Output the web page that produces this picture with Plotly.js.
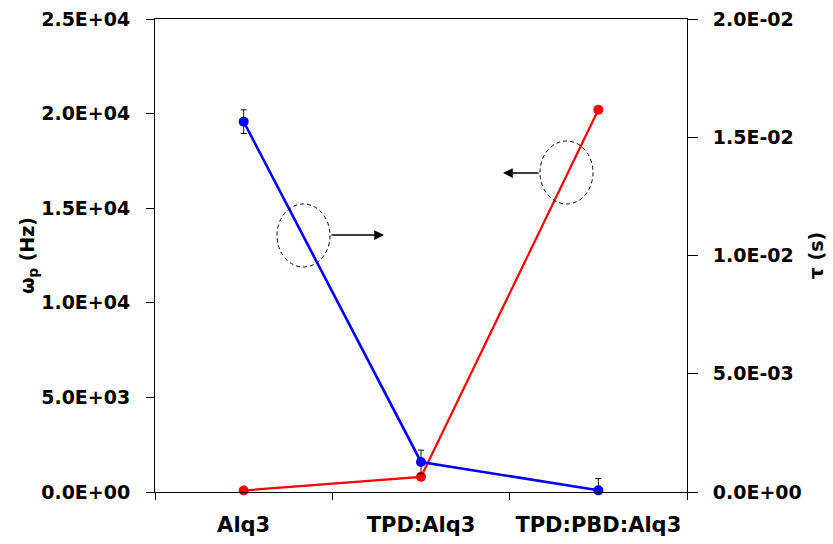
<!DOCTYPE html>
<html><head><meta charset="utf-8">
<script src="https://cdn.plot.ly/plotly-3.0.1.min.js"></script>
<style>html,body{margin:0;padding:0;background:#fff}#chart{width:833px;height:544px}</style>
</head><body><div id="chart"></div>
<script>
const categories = ['Alq3', 'TPD:Alq3', 'TPD:PBD:Alq3'];
const omegaP = [80, 800, 20200];              // ω_p (Hz) – red, left axis
const tau = [0.01566, 0.00127, 0.00007];      // τ (s) – blue, right axis
const tauErrPlus = [0.0005, 0.0005, 0.0005];
const tauErrMinus = [0.0005, 0.0005, 0.00007];
const leftTickVals = [0, 5000, 10000, 15000, 20000, 25000];
const leftTickText = ['0.0E+00', '5.0E+03', '1.0E+04', '1.5E+04', '2.0E+04', '2.5E+04'];
const rightTickVals = [0, 0.005, 0.01, 0.015, 0.02];
const rightTickText = ['0.0E+00', '5.0E-03', '1.0E-02', '1.5E-02', '2.0E-02'];

const FONT = 'DejaVu Sans';
const tickFont = {family: FONT, size: 19, color: '#000', weight: 'bold'};

const traces = [
  {
    x: categories, y: omegaP, xaxis: 'x', yaxis: 'y', type: 'scatter', mode: 'lines+markers',
    line: {color: '#ff0000', width: 2.2}, marker: {color: '#ff0000', size: 10},
    cliponaxis: false, showlegend: false, hoverinfo: 'none'
  },
  {
    x: categories, y: tau, xaxis: 'x', yaxis: 'y2', type: 'scatter', mode: 'lines+markers',
    line: {color: '#0000ff', width: 2.6}, marker: {color: '#0000ff', size: 10},
    error_y: {type: 'data', symmetric: false, array: tauErrPlus, arrayminus: tauErrMinus,
              color: '#111111', thickness: 1, width: 3},
    cliponaxis: false, showlegend: false, hoverinfo: 'none'
  }
];

const commonX = {type: 'category', categoryorder: 'array', categoryarray: categories,
  range: [-0.5, 2.5], tickson: 'boundaries', tickcolor: '#000', tickwidth: 1,
  showgrid: false, zeroline: false, fixedrange: true};

const layout = {
  width: 833, height: 544,
  margin: {l: 155, r: 146, t: 19, b: 52, pad: 0},
  paper_bgcolor: '#fff', plot_bgcolor: '#fff',
  showlegend: false,
  xaxis: Object.assign({}, commonX, {
    ticks: 'outside', ticklen: 7, showline: true, linecolor: '#000', linewidth: 1, mirror: true,
    tickfont: {family: FONT, size: 21, color: '#000', weight: 'bold'}, ticklabelstandoff: 14
  }),
  xaxis2: Object.assign({}, commonX, {
    overlaying: 'x', anchor: 'y', side: 'bottom', ticks: 'inside', ticklen: 9,
    showticklabels: false, showline: false
  }),
  yaxis: {
    range: [0, 25000], tickvals: leftTickVals, ticktext: leftTickText,
    ticks: 'outside', ticklen: 8, tickcolor: '#000', showline: true, linecolor: '#000', linewidth: 1,
    showgrid: false, zeroline: false, tickfont: tickFont, ticklabelstandoff: 12,
    title: {text: 'ω<sub>p</sub> (Hz)', font: {family: FONT, size: 19, color: '#000', weight: 'bold'}, standoff: 1},
    fixedrange: true
  },
  yaxis3: {
    overlaying: 'y', side: 'left', anchor: 'x', range: [0, 25000], tickvals: leftTickVals,
    ticks: 'inside', ticklen: 8, tickcolor: '#000', showticklabels: false, showline: false,
    showgrid: false, zeroline: false
  },
  yaxis2: {
    overlaying: 'y', side: 'right', anchor: 'x', range: [0, 0.02], tickvals: rightTickVals, ticktext: rightTickText,
    ticks: 'outside', ticklen: 10, tickcolor: '#000', showline: true, linecolor: '#000', linewidth: 1,
    showgrid: false, zeroline: false, tickfont: tickFont, ticklabelstandoff: 11,
    title: {text: 'τ (s)', font: {family: FONT, size: 19, color: '#000', weight: 'bold'}, standoff: 8},
    fixedrange: true
  },
  yaxis4: {
    overlaying: 'y', side: 'right', anchor: 'x', range: [0, 0.02], tickvals: rightTickVals,
    ticks: 'inside', ticklen: 8, tickcolor: '#000', showticklabels: false, showline: false,
    showgrid: false, zeroline: false
  },
  shapes: [
    {type: 'circle', xref: 'paper', yref: 'paper', x0: 0.2293, x1: 0.3289, y0: 0.4757, y1: 0.6089,
     line: {color: '#000', width: 1, dash: '4px,3px'}},
    {type: 'circle', xref: 'paper', yref: 'paper', x0: 0.7237, x1: 0.8233, y0: 0.6089, y1: 0.7421,
     line: {color: '#000', width: 1, dash: '4px,3px'}}
  ],
  annotations: [
    {xref: 'paper', yref: 'paper', axref: 'paper', ayref: 'paper', x: 0.4305, y: 0.5433, ax: 0.3289, ay: 0.5433,
     text: '', showarrow: true, arrowhead: 2, arrowsize: 1.3, arrowwidth: 1.5, arrowcolor: '#000'},
    {xref: 'paper', yref: 'paper', axref: 'paper', ayref: 'paper', x: 0.6541, y: 0.6744, ax: 0.7237, ay: 0.6744,
     text: '', showarrow: true, arrowhead: 2, arrowsize: 1.3, arrowwidth: 1.5, arrowcolor: '#000'}
  ]
};

Plotly.newPlot('chart', traces, layout, {displayModeBar: false, staticPlot: true});
</script>
</body></html>
